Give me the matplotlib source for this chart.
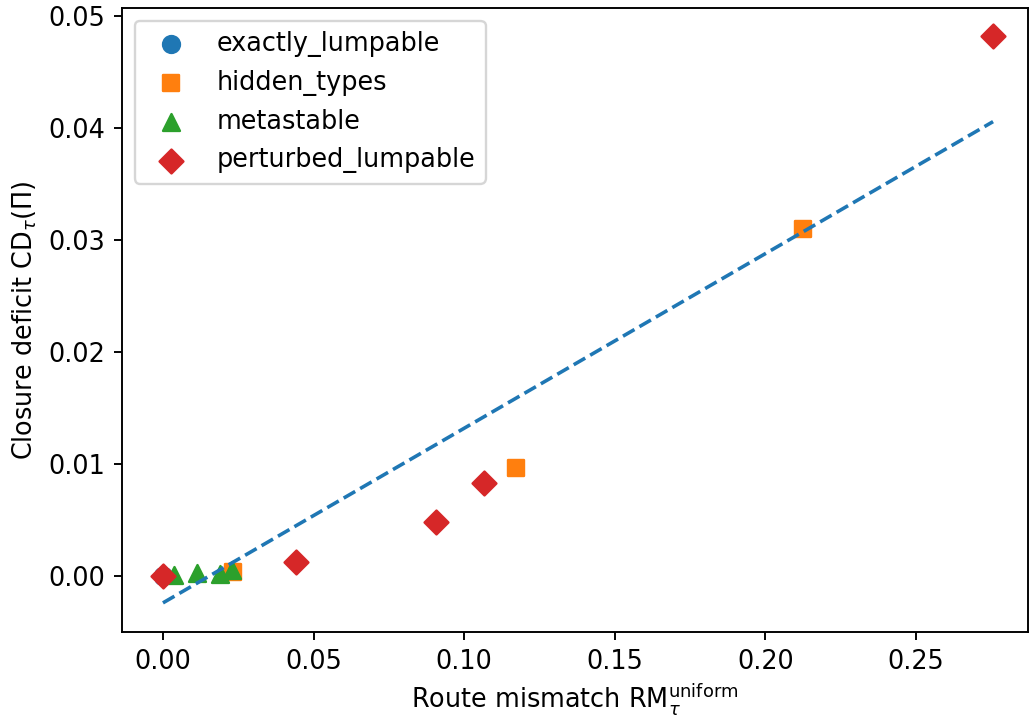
import matplotlib
matplotlib.use("Agg")
import matplotlib.pyplot as plt
import numpy as np

# --- data ---
exact_x = [0.0, 0.0, 0.0]
exact_y = [0.0, 0.0, 0.0]

hidden_x = [0.0231, 0.1171, 0.2124]
hidden_y = [0.00038, 0.00962, 0.0310]

meta_x = [0.0035, 0.0114, 0.0189, 0.0228]
meta_y = [0.00010, 0.00024, 0.00020, 0.00054]

pert_x = [0.0, 0.0442, 0.0906, 0.1067, 0.2756]
pert_y = [0.0, 0.00122, 0.00479, 0.00828, 0.0482]

fit_slope = 0.1559
fit_intercept = -0.0024
fit_xrange = [0.0, 0.2756]

plt.rcParams['font.size'] = 10.7

DPI = 172
fig = plt.figure(figsize=(1029 / DPI, 715 / DPI), dpi=DPI)
ax = fig.add_axes([122 / 1029, (715 - 632) / 715, (1028 - 122) / 1029, (632 - 8) / 715])

ax.scatter(exact_x, exact_y, marker='o', s=50, color='C0', label='exactly_lumpable')
ax.scatter(hidden_x, hidden_y, marker='s', s=50, color='C1', label='hidden_types')
ax.scatter(meta_x, meta_y, marker='^', s=50, color='C2', label='metastable')
ax.scatter(pert_x, pert_y, marker='D', s=50, color='C3', label='perturbed_lumpable')

xf = np.array(fit_xrange)
ax.plot(xf, fit_slope * xf + fit_intercept, '--', color='C0', lw=1.5)

ax.set_xlim(-0.0136, 0.2872)
ax.set_ylim(-0.00500, 0.05071)

ax.set_xlabel(r'Route mismatch RM$_{\tau}^{\mathrm{uniform}}$', labelpad=2.5)
ax.set_ylabel(r'Closure deficit CD$_{\tau}(\Pi)$', labelpad=4)
ax.legend(loc='upper left')

fig.savefig('out.png', dpi=DPI)
